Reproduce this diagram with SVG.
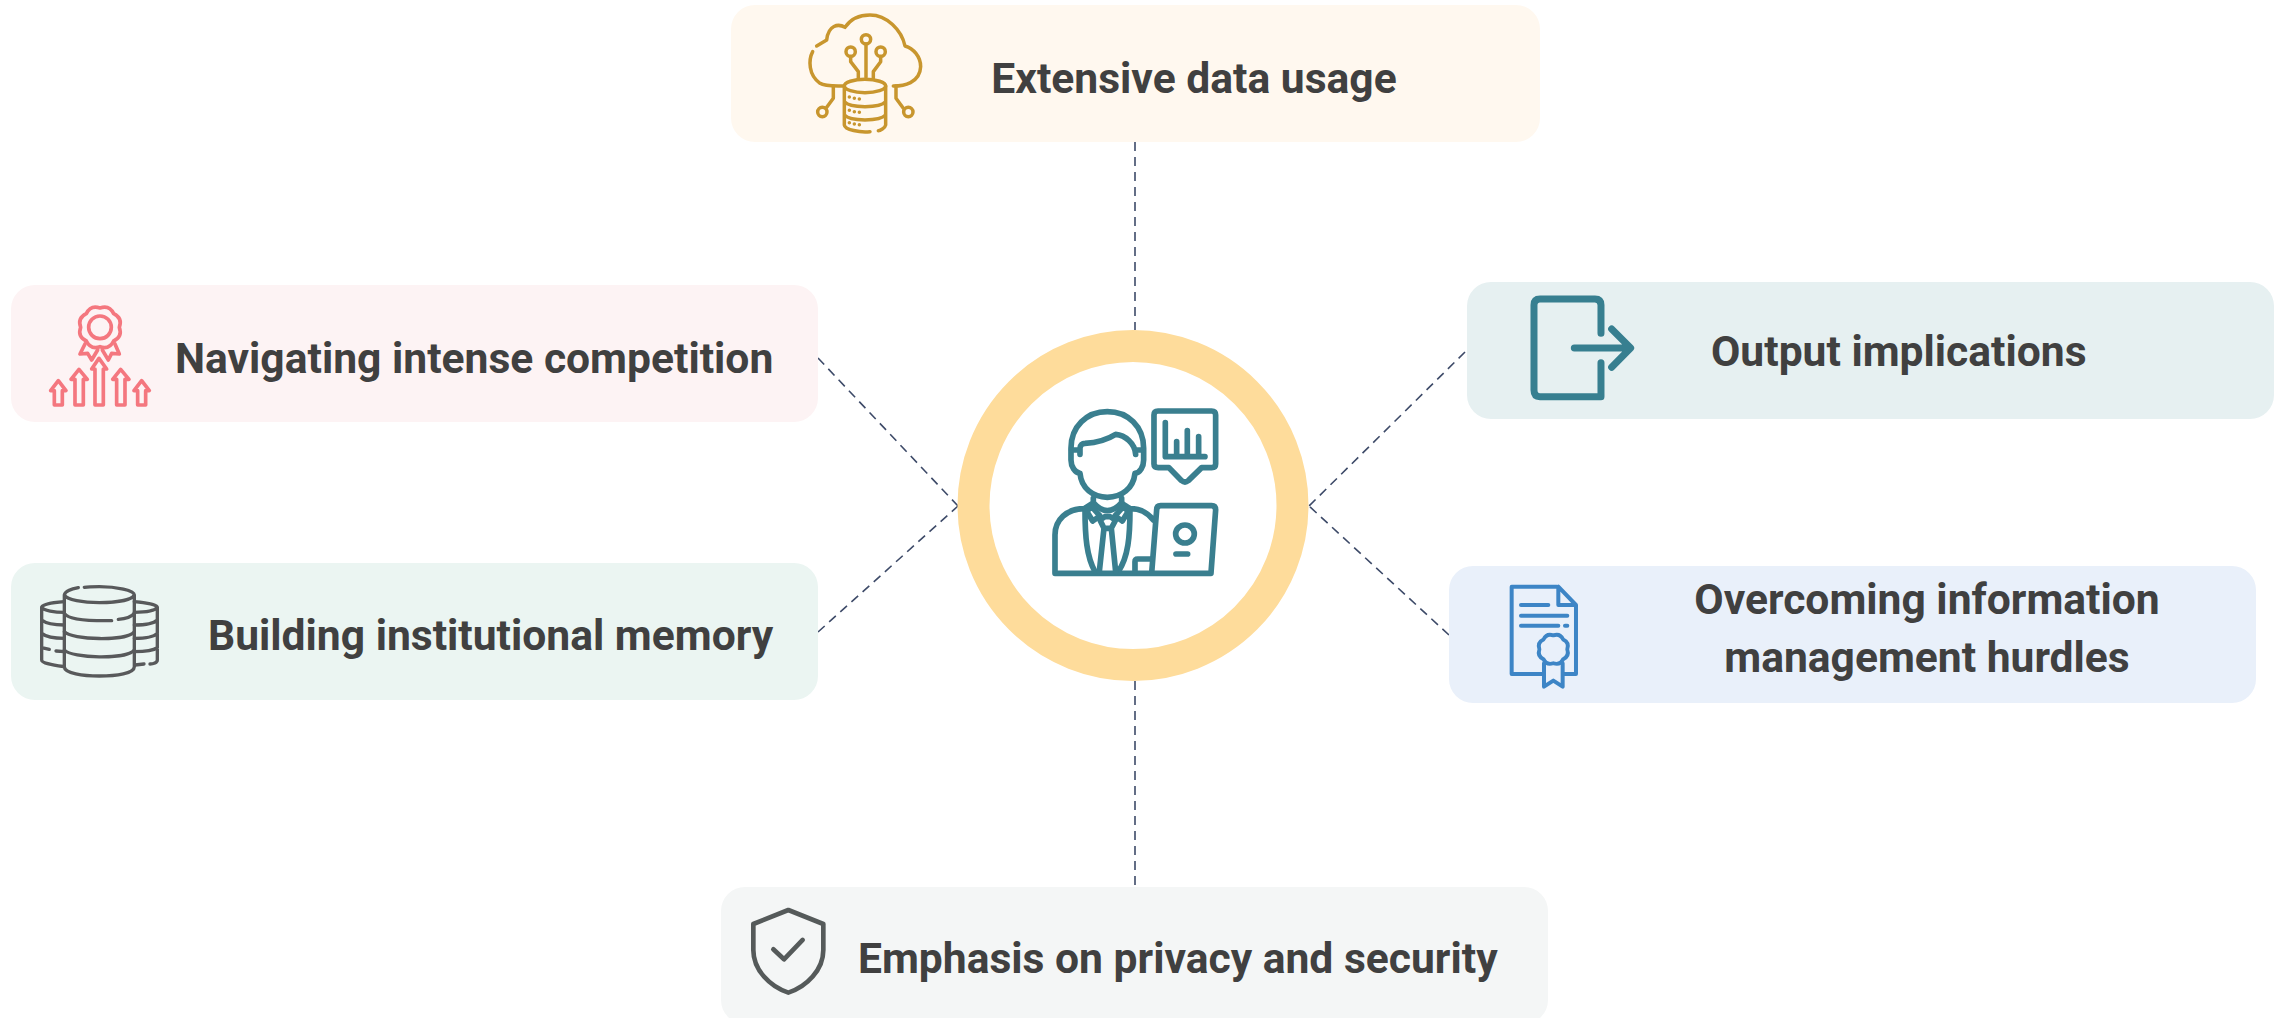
<svg xmlns="http://www.w3.org/2000/svg" width="2287" height="1018" viewBox="0 0 2287 1018">
<style>
.t{font-family:"Roboto","Liberation Sans",sans-serif;font-weight:700;font-size:42.6px;fill:#404040}
.m{text-anchor:middle}
.c{fill:none;stroke:#3d4a68;stroke-width:1.6;stroke-dasharray:9 6}
.i{fill:none;stroke-linecap:round;stroke-linejoin:round}
</style>
<defs>
<path id="sc" d="M58 0Q68 28 41 41Q28 68 0 58Q-28 68 -41 41Q-68 28 -58 0Q-68 -28 -41 -41Q-28 -68 0 -58Q28 -68 41 -41Q68 -28 58 0Z"/>
</defs>
<rect width="2287" height="1018" fill="#fff"/>
<g id="connectors">
<path class="c" d="M1135 142V330"/>
<path class="c" d="M1135 681V887"/>
<path class="c" d="M818 358L958 506"/>
<path class="c" d="M818 632L958 506"/>
<path class="c" d="M1465 352L1309 506"/>
<path class="c" d="M1449 635L1309 506"/>
</g>
<g id="node-center">
<circle cx="1133" cy="505.500" r="159.500" fill="#fff" stroke="#fedc9b" stroke-width="32"/>
<g class="i" transform="translate(950,320) scale(.3333)" stroke="#3a7f8f" stroke-width="17">
<path d="M363 385C363 320 410 275 472 275C534 275 581 320 581 385V420C581 440 570 458 555 460C550 505 515 532 472 532C429 532 394 505 390 460C375 458 363 440 363 420Z"/>
<path d="M365 390H385M390 403V385C390 375 397 370 405 370C440 368 470 360 497 343C525 345 555 370 557 403M557 390H578"/>
<path d="M430 535V548C445 565 460 572 472 572C485 572 500 565 515 548V535"/>
<path d="M425 552L403 566C350 566 315 600 315 645V760H783L797 570Q797 557 785 557H632Q620 557 620 570L605 760M610 600C590 575 570 566 540 566L518 552"/>
<path d="M555 755V725Q555 717 563 717H605"/>
<path d="M405 566C405 650 410 710 435 755M540 566C540 650 535 710 505 755"/>
<path d="M425 560L410 574L428 603L450 588ZM520 560L535 574L517 603L495 588Z"/>
<path d="M450 600L462 625H484L497 600L480 590H465ZM462 625L448 755M484 625L497 755"/>
<path d="M624 273H785Q797 273 797 285V432Q797 443 785 443H755L715 482Q705 490 695 482L657 443H625Q612 443 612 432V285Q612 273 624 273Z"/>
<path d="M646 308V410H765M680 365V405M712 332V405M746 350V405"/>
<ellipse cx="705" cy="642" rx="28" ry="27"/>
<path d="M678 702H713"/>
</g>
</g>
<g id="node-top">
<rect x="731" y="5" width="809" height="137" rx="24" fill="#fff8ef"/>
<g class="i" transform="translate(790,0) scale(.3333)" stroke="#c8962e" stroke-width="10.500">
<path d="M68 155C55 180 55 225 90 250C105 260 140 258 160 258M310 258C340 258 390 250 392 200C392 170 370 145 345 138C335 90 290 45 240 45C205 45 180 60 165 82C145 70 115 75 110 120L80 138"/>
<circle cx="228" cy="118" r="14"/><circle cx="182" cy="155" r="14"/><circle cx="272" cy="155" r="14"/>
<path d="M228 132V232M182 170V185L205 215V235M272 170V185L250 215V235"/>
<ellipse cx="225" cy="258" rx="62" ry="20"/>
<path d="M163 258V375C165 390 210 398 240 395M265 392C270 392 285 385 287 375V258M163 305C180 325 270 325 287 305M163 345C180 365 270 365 287 345"/>
<path d="M178 291h.1M193 295h.1M208 297h.1M178 331h.1M193 335h.1M208 337h.1M178 368h.1M193 372h.1M208 374h.1"/>
<path d="M130 258V295L108 325M318 258V295L340 325"/>
<circle cx="97" cy="336" r="14"/><circle cx="355" cy="336" r="14"/>
</g>
<text class="t m" x="1194" y="93">Extensive data usage</text>
</g>
<g id="node-left-1">
<rect x="11" y="285" width="807" height="137" rx="24" fill="#fdf3f4"/>
<g class="i" transform="translate(0,270) scale(.3333)" stroke="#f4777f" stroke-width="11">
<use href="#sc" transform="translate(300,172)"/>
<circle cx="300" cy="172" r="34"/>
<path d="M255 222L240 252L263 250L275 270L293 240M345 222L358 252L335 250L325 270L307 240"/>
<path d="M285 405V297H275L297 265L320 297H310V405Z"/>
<path d="M225 405V328H213L237 298L262 328H250V405Z"/>
<path d="M350 405V328H338L362 298L387 328H375V405Z"/>
<path d="M163 405V362H152L175 332L198 362H187V405Z"/>
<path d="M413 405V362H402L425 332L448 362H437V405Z"/>
</g>
<text class="t" x="175" y="373">Navigating intense competition</text>
</g>
<g id="node-left-2">
<rect x="11" y="563" width="807" height="137" rx="24" fill="#ebf5f2"/>
<g class="i" transform="translate(0,550) scale(.3333)" stroke="#58595b" stroke-width="10">
<path d="M235 113C215 117 195 122 193 135V350C193 370 250 378 298 378C350 378 403 370 403 350V135C403 122 350 110 298 110C280 110 265 110 253 112M193 135C200 150 250 158 298 158C350 158 395 150 403 135"/>
<path d="M193 190C205 210 270 213 335 212M355 208C375 207 395 200 403 190M193 245C215 270 380 275 403 245M193 300C215 325 380 330 403 300"/>
<path d="M193 155C150 158 125 165 125 172V330C125 340 160 345 193 350M125 172C130 182 165 187 193 187M125 210C140 222 175 225 193 225M125 250C140 262 175 265 193 265M125 293L148 298M168 303L193 305"/>
<path d="M403 155C440 158 472 165 472 172V330C472 338 460 342 450 342M432 342L405 345M472 172C465 182 435 187 403 187M472 210C460 222 435 225 403 225M472 250C460 262 435 265 403 265M472 293C460 302 435 305 403 305"/>
</g>
<text class="t" x="208" y="650">Building institutional memory</text>
</g>
<g id="node-right-1">
<rect x="1467" y="282" width="807" height="137" rx="24" fill="#e6f0f1"/>
<g class="i" transform="translate(1440,270) scale(.3333)" stroke="#377f90" stroke-width="21">
<path d="M483 190V105Q483 87 465 87H300Q282 87 282 105V360Q282 380 300 380H483V278"/>
<path d="M403 234H570M515 177L572 234L515 292"/>
</g>
<text class="t" x="1711" y="366">Output implications</text>
</g>
<g id="node-right-2">
<rect x="1449" y="566" width="807" height="137" rx="24" fill="#e9f0fa"/>
<g class="i" transform="translate(1440,560) scale(.3333)" stroke="#3d85c6" stroke-width="12">
<path d="M350 80H215V342H305M372 342H408V135L355 80V135H408"/>
<path d="M243 135H325M243 167H382M243 197H355M375 197H382"/>
<use href="#sc" transform="translate(340,268) scale(.72)" stroke-width="16"/>
<path d="M312 310V380L340 362L368 380V310"/>
</g>
<text class="t m" x="1927" y="614">Overcoming information</text>
<text class="t m" x="1927" y="672">management hurdles</text>
</g>
<g id="node-bottom">
<rect x="721" y="887" width="827" height="137" rx="24" fill="#f4f6f6"/>
<g class="i" transform="translate(710,880) scale(.3333)" stroke="#555a5a" stroke-width="14">
<path d="M235 90L340 132V210C340 270 290 320 235 338C180 320 130 270 130 210V132Z"/>
<path d="M190 208L222 238L278 180"/>
</g>
<text class="t" x="858" y="973">Emphasis on privacy and security</text>
</g>
</svg>
